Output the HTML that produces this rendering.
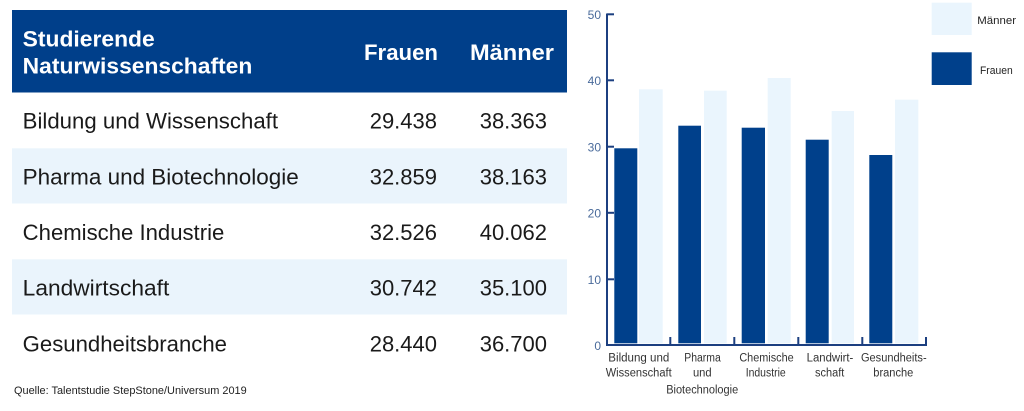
<!DOCTYPE html>
<html><head><meta charset="utf-8"><style>
html,body{margin:0;padding:0;background:#fff;}
svg{display:block;}
text{font-family:"Liberation Sans",sans-serif;}
</style></head><body>
<svg width="1024" height="411" viewBox="0 0 1024 411" xmlns="http://www.w3.org/2000/svg">
<rect x="0" y="0" width="1024" height="411" fill="#fff"/>
<!-- table -->
<rect x="12" y="10" width="555" height="82.5" fill="#003f8a"/>
<rect x="12" y="148.3" width="555" height="55.2" fill="#eaf4fc"/>
<rect x="12" y="259.3" width="555" height="55.2" fill="#eaf4fc"/>
<g fill="#fff" font-weight="bold" font-size="22">
<text x="22.7" y="46.7" textLength="132" lengthAdjust="spacingAndGlyphs">Studierende</text>
<text x="22.7" y="73.3" textLength="229.6" lengthAdjust="spacingAndGlyphs">Naturwissenschaften</text>
<text x="364" y="60" textLength="74" lengthAdjust="spacingAndGlyphs">Frauen</text>
<text x="470" y="60" textLength="84" lengthAdjust="spacingAndGlyphs">Männer</text>
</g>
<g fill="#1a1a1a" font-size="22">
<text x="22.7" y="128.5" textLength="255.3" lengthAdjust="spacingAndGlyphs">Bildung und Wissenschaft</text>
<text x="22.7" y="184.3" textLength="276" lengthAdjust="spacingAndGlyphs">Pharma und Biotechnologie</text>
<text x="22.7" y="240" textLength="201.6" lengthAdjust="spacingAndGlyphs">Chemische Industrie</text>
<text x="22.7" y="295.7" textLength="146.6" lengthAdjust="spacingAndGlyphs">Landwirtschaft</text>
<text x="22.7" y="351.5" textLength="204.3" lengthAdjust="spacingAndGlyphs">Gesundheitsbranche</text>
<g text-anchor="end">
<text x="437" y="128.5">29.438</text>
<text x="547" y="128.5">38.363</text>
<text x="437" y="184.3">32.859</text>
<text x="547" y="184.3">38.163</text>
<text x="437" y="240">32.526</text>
<text x="547" y="240">40.062</text>
<text x="437" y="295.7">30.742</text>
<text x="547" y="295.7">35.100</text>
<text x="437" y="351.5">28.440</text>
<text x="547" y="351.5">36.700</text>
</g>
</g>
<text x="14" y="394" font-size="11" fill="#222" textLength="232.7" lengthAdjust="spacingAndGlyphs">Quelle: Talentstudie StepStone/Universum 2019</text>

<!-- chart bars -->
<g fill="#00408b">
<rect x="614.3" y="148.3" width="23" height="195"/>
<rect x="678.3" y="125.7" width="22.7" height="217.6"/>
<rect x="741.7" y="127.7" width="23.3" height="215.6"/>
<rect x="805.7" y="139.7" width="23" height="203.6"/>
<rect x="869.3" y="155" width="23" height="188.3"/>
</g>
<g fill="#eaf5fd">
<rect x="639" y="89.3" width="23.7" height="254"/>
<rect x="704" y="90.7" width="22.7" height="252.6"/>
<rect x="767.7" y="78" width="23" height="265.3"/>
<rect x="831.7" y="111" width="22.3" height="232.3"/>
<rect x="895" y="99.7" width="23.3" height="243.6"/>
</g>
<!-- axes -->
<g stroke="#1c3f80" stroke-width="2" fill="none">
<line x1="607" y1="13.5" x2="607" y2="346"/>
<line x1="606" y1="345" x2="927" y2="345"/>
<line x1="607" y1="14.3" x2="614" y2="14.3"/>
<line x1="607" y1="80.3" x2="614" y2="80.3"/>
<line x1="607" y1="146.7" x2="614" y2="146.7"/>
<line x1="607" y1="212.8" x2="614" y2="212.8"/>
<line x1="607" y1="279.3" x2="614" y2="279.3"/>
<line x1="670.3" y1="345" x2="670.3" y2="337"/>
<line x1="734.3" y1="345" x2="734.3" y2="337"/>
<line x1="798.3" y1="345" x2="798.3" y2="337"/>
<line x1="862.3" y1="345" x2="862.3" y2="337"/>
<line x1="926" y1="345" x2="926" y2="337"/>
</g>
<g fill="#4a6b9b" font-size="12" text-anchor="end">
<text x="601" y="19">50</text>
<text x="601" y="85">40</text>
<text x="601" y="151.5">30</text>
<text x="601" y="217.5">20</text>
<text x="601" y="284">10</text>
<text x="601" y="350">0</text>
</g>
<g fill="#333" font-size="11.5" text-anchor="middle">
<text x="638.8" y="361.7" textLength="61" lengthAdjust="spacingAndGlyphs">Bildung und</text>
<text x="638.7" y="376.7" textLength="66" lengthAdjust="spacingAndGlyphs">Wissenschaft</text>
<text x="702.5" y="361.7" textLength="36.5" lengthAdjust="spacingAndGlyphs">Pharma</text>
<text x="702.3" y="376.7" textLength="18.7" lengthAdjust="spacingAndGlyphs">und</text>
<text x="702.2" y="393.3" textLength="72" lengthAdjust="spacingAndGlyphs">Biotechnologie</text>
<text x="766.5" y="361.7" textLength="54.3" lengthAdjust="spacingAndGlyphs">Chemische</text>
<text x="765.7" y="376.7" textLength="40" lengthAdjust="spacingAndGlyphs">Industrie</text>
<text x="830" y="361.7" textLength="46.7" lengthAdjust="spacingAndGlyphs">Landwirt-</text>
<text x="829.7" y="376.7" textLength="29.3" lengthAdjust="spacingAndGlyphs">schaft</text>
<text x="893.8" y="361.7" textLength="65.7" lengthAdjust="spacingAndGlyphs">Gesundheits-</text>
<text x="893.3" y="376.7" textLength="40" lengthAdjust="spacingAndGlyphs">branche</text>
</g>
<!-- legend -->
<rect x="931.7" y="2.7" width="40" height="32.3" fill="#eaf5fd"/>
<rect x="931.7" y="52.3" width="40" height="32.7" fill="#00408b"/>
<g fill="#222" font-size="11">
<text x="977.3" y="24" textLength="38.7" lengthAdjust="spacingAndGlyphs">Männer</text>
<text x="980" y="74" textLength="32.7" lengthAdjust="spacingAndGlyphs">Frauen</text>
</g>
</svg>
</body></html>
